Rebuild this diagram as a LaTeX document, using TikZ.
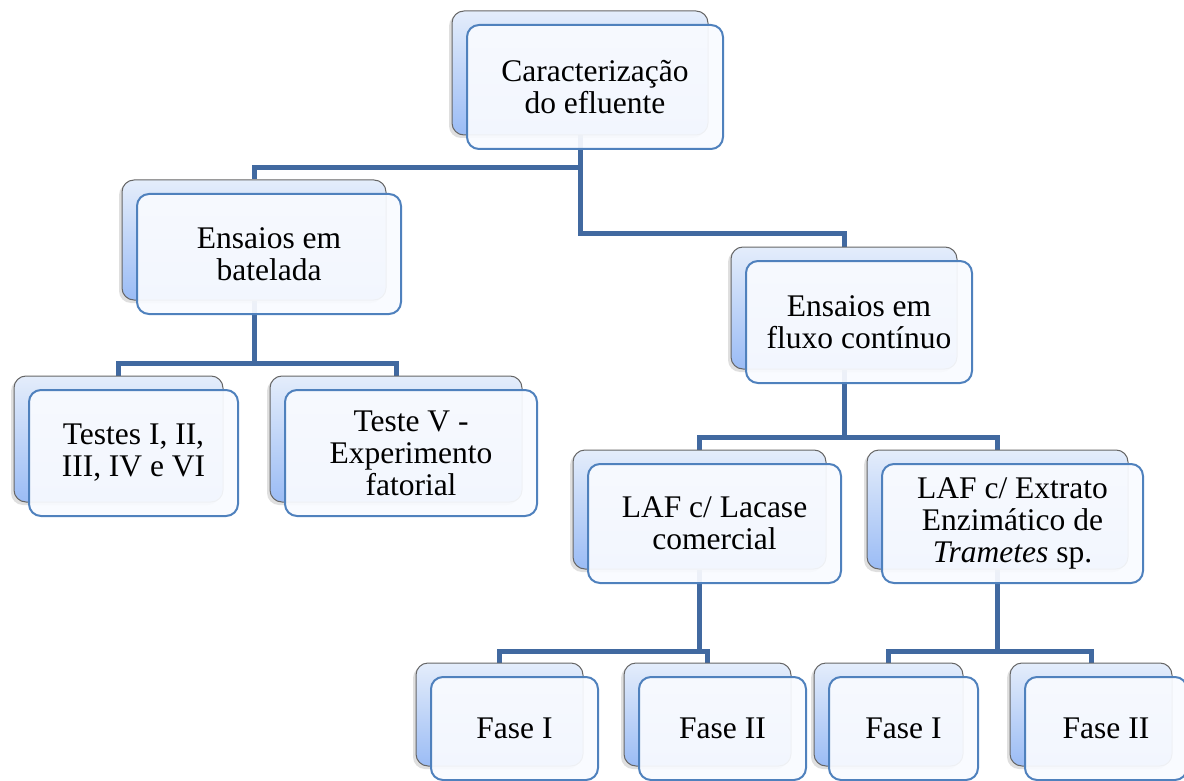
\documentclass[tikz,border=0pt]{standalone}
\usepackage{fontspec}
\setmainfont{Liberation Serif}
\usetikzlibrary{shadows,backgrounds}
\definecolor{linkblue}{RGB}{65,105,160}
\definecolor{edgeblue}{RGB}{79,129,189}
\definecolor{shadetop}{RGB}{228,237,251}
\definecolor{shadebot}{RGB}{155,188,245}
\definecolor{facefill}{RGB}{249,251,255}
\tikzset{
  backbox/.style={rectangle, rounded corners=6pt, draw=black!60, line width=0.5pt,
    top color=shadetop, bottom color=shadebot,
    drop shadow={shadow xshift=-1.5pt, shadow yshift=-1.5pt, opacity=0.25}},
  frontbox/.style={rectangle, rounded corners=6pt, draw=edgeblue, line width=1pt,
    fill=facefill, fill opacity=0.93, text opacity=1, align=center, inner sep=0pt,
    font=\fontsize{15.75}{16}\selectfont},
  link/.style={draw=linkblue, line width=2.5pt}
}
% back box at (x,y) with its size, front box with the text a bit lower right
\newcommand\smartbox[6]{%
  \node[backbox, minimum width=#4*0.5pt, minimum height=#5*0.5pt] (#1) at (#2,#3) {};
  \node[frontbox, minimum width=#4*0.5pt, minimum height=#5*0.5pt] (#1-f)
    at ([shift={(15,14)}]#1.center) {#6};}

\begin{document}
\begin{tikzpicture}[x=0.5pt, y=-0.5pt]
		%%%%% START %%%%%
		\useasboundingbox (0,0) rectangle (1184,781);
		
		\smartbox{carac}{580}{73}{256}{124}{Caracterização\\do efluente}
		
		\smartbox{batel}{254}{240}{264}{120}{Ensaios em\\batelada}
		\smartbox{fluxo}{844}{308}{226}{122}{Ensaios em\\fluxo contínuo}
		
		\smartbox{testes}{118.5}{439}{209}{126}{Testes I, II,\\III, IV e VI}
		\smartbox{testeV}{396}{439}{252}{126}{Teste V -\\Experimento\\fatorial}
		
		\smartbox{lacase}{699.5}{509.5}{253}{119}{LAF c/ Lacase\\comercial}
		\smartbox{extrato}{997.5}{509.5}{261}{119}{LAF c/ Extrato\\Enzimático de\\\textit{Trametes} sp.}
		
		\smartbox{faseIa}{499.5}{714.5}{167}{103}{Fase I}
		\smartbox{faseIIa}{707.5}{714.5}{167}{103}{Fase II}
		\smartbox{faseIb}{888.5}{714.5}{149}{103}{Fase I}
		\smartbox{faseIIb}{1091}{714.5}{162}{103}{Fase II}
		
		\begin{pgfonlayer}{background}
		\draw[link] (carac.south) -- ++(0,32) -| (batel.north);
		\draw[link] (carac.south) -- ++(0,98) -| (fluxo.north);
		
		\draw[link] (batel.south) -- ++(0,63) -| (testes.north);
		\draw[link] (batel.south) -- ++(0,63) -| (testeV.north);
		
		\draw[link] (fluxo.south) -- ++(0,68) -| (lacase.north);
		\draw[link] (fluxo.south) -- ++(0,68) -| (extrato.north);
		
		\draw[link] (lacase.south) -- ++(0,82) -| (faseIa.north);
		\draw[link] (lacase.south) -- ++(0,82) -| (faseIIa.north);
		\draw[link] (extrato.south) -- ++(0,82) -| (faseIb.north);
		\draw[link] (extrato.south) -- ++(0,82) -| (faseIIb.north);
		\end{pgfonlayer}
		%%%%% END %%%%%
\end{tikzpicture}
\end{document}
